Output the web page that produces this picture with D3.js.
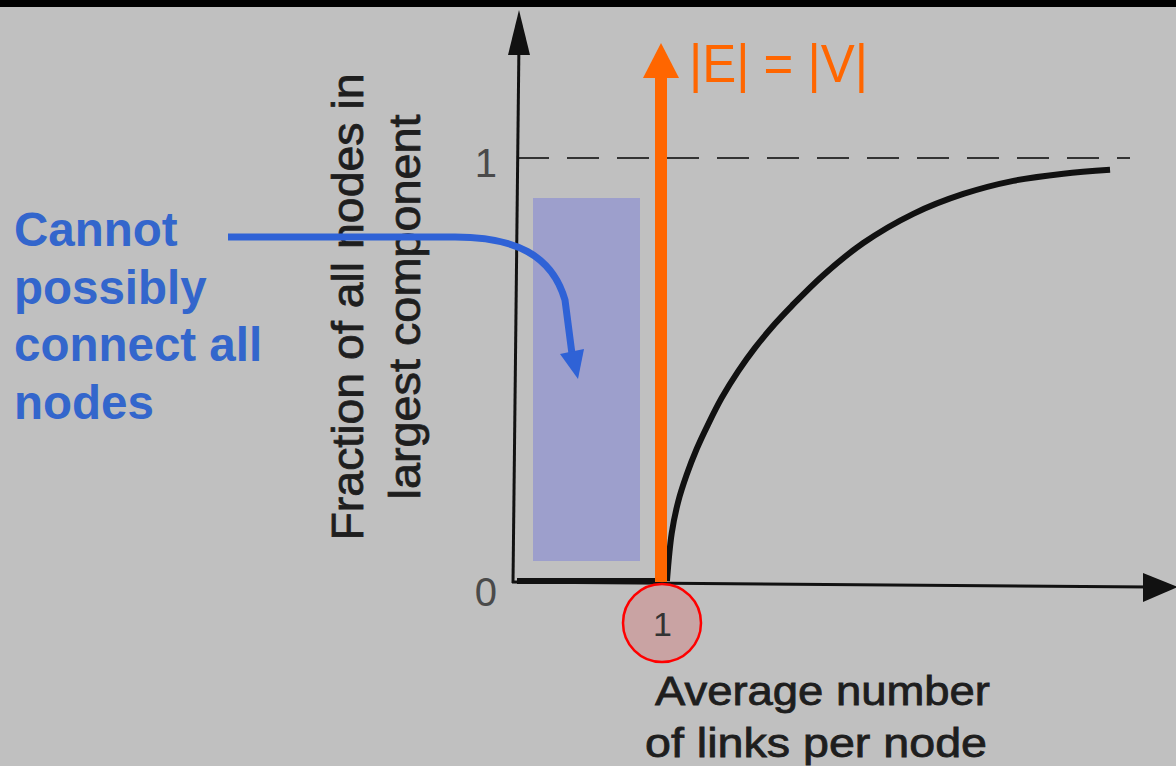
<!DOCTYPE html>
<html>
<head>
<meta charset="utf-8">
<script src="https://cdn.jsdelivr.net/npm/d3@7"></script>
<style>
  html, body { margin: 0; padding: 0; background: #c0c0c0; }
  svg { display: block; }
</style>
</head>
<body>
<div id="chart"></div>
<script>
// data
var linksPerNode = [0, 1.034, 1.067, 1.112, 1.170, 1.239, 1.319, 1.412, 1.526, 1.641, 1.779, 1.894, 2.112, 2.388, 2.733, 3.078, 3.423, 3.768, 4.090];
var fraction     = [0, 0,     0.113, 0.188, 0.251, 0.312, 0.371, 0.433, 0.496, 0.551, 0.608, 0.650, 0.723, 0.799, 0.868, 0.915, 0.946, 0.963, 0.972];
var yTicks = [0, 1];
var xTicks = [1];
var yLabel = ["Fraction of all nodes in", "largest component"];
var xLabel = ["Average number", "of links per node"];
var noteLines = ["Cannot", "possibly", "connect all", "nodes"];
var edgeLabel = "|E| = |V|";

var w = 1176;
var h = 766;
var font = "'Liberation Sans', Arial, Helvetica, sans-serif";

var svg = d3.select("#chart").append("svg").attr("width", w).attr("height", h);

svg.append("rect").attr("width", w).attr("height", h).attr("fill", "#c0c0c0");
svg.append("rect").attr("width", w).attr("height", 7).attr("fill", "#000");

// scales
var x = d3.scaleLinear().domain([0, 1]).range([517, 662]);
var y = d3.scaleLinear().domain([0, 1]).range([581, 158]);

// shaded region
svg.append("rect")
  .attr("x", 533).attr("y", 198)
  .attr("width", 640 - 533).attr("height", 561 - 198)
  .attr("fill", "#9d9fcc");

// dashed line at 1
svg.append("line")
  .attr("x1", x(0)).attr("x2", 1130)
  .attr("y1", y(1)).attr("y2", y(1))
  .attr("stroke", "#333").attr("stroke-width", 2)
  .attr("stroke-dasharray", "32,18");

// axes lines with arrows
svg.append("line")
  .attr("x1", 513).attr("y1", 583).attr("x2", 519).attr("y2", 40)
  .attr("stroke", "#111").attr("stroke-width", 3);
svg.append("path")
  .attr("d", "M519,10 L508,55 L530,55 Z")
  .attr("fill", "#111");
svg.append("line")
  .attr("x1", 512).attr("y1", 582).attr("x2", 1150).attr("y2", 587)
  .attr("stroke", "#111").attr("stroke-width", 3);
svg.append("path")
  .attr("d", "M1178,587 L1143,573 L1143,602 Z")
  .attr("fill", "#111");

// y axis tick labels
var yAxis = d3.axisLeft(y).tickValues(yTicks).tickSize(0).tickPadding(20).tickFormat(d3.format("d"));
var gy = svg.append("g").attr("transform", "translate(" + 517 + ",0)").call(yAxis);
gy.select(".domain").remove();
gy.selectAll("text")
  .attr("font-family", font).attr("font-size", "40px").attr("fill", "#4a4a4a")
  .attr("dy", function (d) { return d === 0 ? "0.6em" : "0.45em"; });

// curve: flat part then the smooth rise
var pts = linksPerNode.map(function (d, i) { return [d, fraction[i]]; });
var flat = d3.line()
  .x(function (d) { return x(d[0]); })
  .y(function (d) { return y(d[1]); });
var rise = d3.line()
  .x(function (d) { return x(d[0]); })
  .y(function (d) { return y(d[1]); })
  .curve(d3.curveCatmullRom.alpha(0.5));
svg.append("path")
  .datum(pts.slice(0, 2))
  .attr("d", flat)
  .attr("fill", "none").attr("stroke", "#111").attr("stroke-width", 6);
svg.append("path")
  .datum(pts.slice(1))
  .attr("d", rise)
  .attr("fill", "none").attr("stroke", "#111").attr("stroke-width", 6);

// orange arrow at x = 1
svg.append("line")
  .attr("x1", x(1) - 1).attr("x2", x(1) - 1)
  .attr("y1", 582).attr("y2", 76)
  .attr("stroke", "#ff6600").attr("stroke-width", 12);
svg.append("path")
  .attr("d", "M" + (x(1) - 1) + ",43 L" + (x(1) - 19) + ",78 L" + (x(1) + 17) + ",78 Z")
  .attr("fill", "#ff6600");
svg.append("text")
  .attr("x", 689).attr("y", 82)
  .attr("font-family", font).attr("font-size", "54px")
  .attr("fill", "#ff6600")
  .attr("textLength", 179).attr("lengthAdjust", "spacingAndGlyphs")
  .text(edgeLabel);

// circle around tick 1
svg.append("circle")
  .attr("cx", x(1)).attr("cy", 623).attr("r", 39)
  .attr("fill", "#c9a3a3").attr("stroke", "#ff0000").attr("stroke-width", 2.5);

var xAxis = d3.axisBottom(x).tickValues(xTicks).tickSize(0).tickPadding(31).tickFormat(d3.format("d"));
var gx = svg.append("g").attr("transform", "translate(0," + 581 + ")").call(xAxis);
gx.select(".domain").remove();
gx.selectAll("text")
  .attr("font-family", font).attr("font-size", "34px").attr("fill", "#333");

// axis titles
yLabel.forEach(function (t, i) {
  svg.append("text")
    .attr("transform", "translate(" + (363 + i * 57) + ",307) rotate(-90)")
    .attr("text-anchor", "middle")
    .attr("font-family", font).attr("font-size", "44px")
    .attr("fill", "#1e1e1e").attr("stroke", "#1e1e1e").attr("stroke-width", 0.8)
    .attr("textLength", i === 0 ? 467 : 385).attr("lengthAdjust", "spacingAndGlyphs")
    .text(t);
});
xLabel.forEach(function (t, i) {
  svg.append("text")
    .attr("x", i === 0 ? 655 : 645).attr("y", 705 + i * 52)
    .attr("font-family", font).attr("font-size", "40px")
    .attr("fill", "#1e1e1e").attr("stroke", "#1e1e1e").attr("stroke-width", 0.8)
    .attr("textLength", i === 0 ? 335 : 342).attr("lengthAdjust", "spacingAndGlyphs")
    .text(t);
});

// blue note + arrow
noteLines.forEach(function (t, i) {
  svg.append("text")
    .attr("x", 14).attr("y", 246 + i * 57.5)
    .attr("font-family", font).attr("font-size", "47.5px").attr("font-weight", "bold")
    .attr("fill", "#3366cc")
    .text(t);
});
svg.append("path")
  .attr("d", "M228,237 H455 C515,237 552,255 565,300 L572,354")
  .attr("fill", "none").attr("stroke", "#2f62d6").attr("stroke-width", 7);
svg.append("path")
  .attr("d", "M578,379 L560,354 L584,349 Z")
  .attr("fill", "#2f62d6");
</script>
</body>
</html>
